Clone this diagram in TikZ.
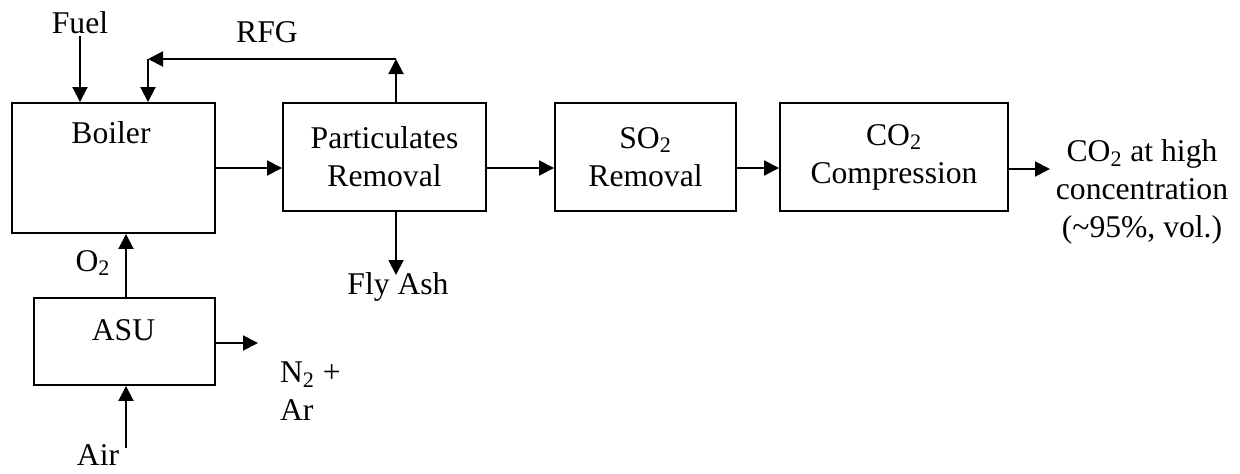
\documentclass[tikz,border=0pt]{standalone}
\usepackage{fontspec}
\setmainfont{Liberation Serif}
\usetikzlibrary{positioning}
\usetikzlibrary{arrows.meta}

\begin{document}
\begin{tikzpicture}[every node/.style={font=\fontsize{18}{21.5}\selectfont, inner sep=1pt},
  bloque/.style={draw, line width=1.1pt, align=center, inner sep=0pt},
  flujo/.style={-{Triangle[length=0.3cm, width=0.3cm]}, line width=1.1pt}]
  \useasboundingbox (0,0) rectangle (24.8,-9.46);
  % Bloques
  \node[bloque, minimum width=4.06cm, minimum height=2.6cm] (boiler) at (2.27,-3.36) {};
  \node[bloque, minimum width=4.06cm, minimum height=2.16cm] (part) at (7.69,-3.14) {Particulates\\Removal};
  \node[bloque, minimum width=3.62cm, minimum height=2.16cm] (so2) at (12.91,-3.14) {SO\textsubscript{2}\\Removal};
  \node[bloque, minimum width=4.56cm, minimum height=2.16cm] (co2) at (17.88,-3.14) {CO\textsubscript{2}\\Compression};
  \node[bloque, minimum width=3.62cm, minimum height=1.74cm] (asu) at (2.49,-6.83) {};

  % Textos
  \node (boilertxt) at (2.22,-2.66) {Boiler};
  \node (asutxt) at (2.47,-6.6) {ASU};
  \node (fuel) at (1.6,-0.46) {Fuel};
  \node (rfg) at (5.34,-0.64) {RFG};
  \node (o2) at (1.86,-5.26) {O\textsubscript{2}};
  \node (flyash) at (7.96,-5.74) {Fly Ash};
  \node (air) at (1.96,-9.1) {Air};
  \node[align=left, anchor=west] (n2ar) at (5.56,-7.82) {N\textsubscript{2} +\\Ar};
  \node[align=center] (product) at (22.84,-3.84) {CO\textsubscript{2} at high\\concentration\\(\textasciitilde95\%, vol.)};

  \coordinate (rfgup) at (7.92,-1.18);
  \coordinate (rfgleft) at (2.96,-1.18);
  \coordinate (ashend) at (7.92,-5.5);
  \coordinate (airin) at (2.52,-8.96);
  \coordinate (n2end) at (5.16,-6.86);
  \coordinate (outend) at (21.0,-3.38);

  % Flechas
  \draw[flujo] (fuel.south) -- (fuel.south |- boiler.north);
  \draw[flujo] (rfgup |- part.north) -- (rfgup);
  \draw[flujo] (rfgup) -- (rfgleft);
  \draw[flujo] (rfgleft) -- (rfgleft |- boiler.north);
  \draw[flujo] (boiler.east) -- (boiler.east -| part.west);
  \draw[flujo] (boiler.east -| part.east) -- (boiler.east -| so2.west);
  \draw[flujo] (boiler.east -| so2.east) -- (boiler.east -| co2.west);
  \draw[flujo] (outend -| co2.east) -- (outend);
  \draw[flujo] (ashend |- part.south) -- (ashend);
  \draw[flujo] (airin) -- (airin |- asu.south);
  \draw[flujo] (airin |- asu.north) -- (airin |- boiler.south);
  \draw[flujo] (n2end -| asu.east) -- (n2end);
\end{tikzpicture}
\end{document}
